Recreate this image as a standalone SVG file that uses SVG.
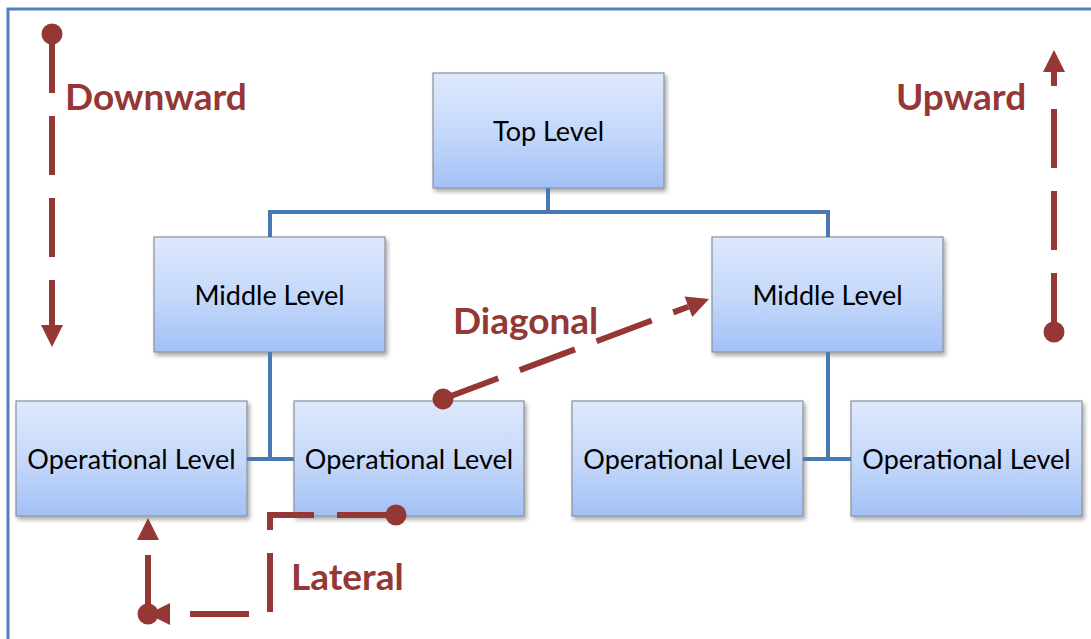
<svg xmlns="http://www.w3.org/2000/svg" width="1091" height="639" viewBox="0 0 1091 639">
<defs>
<linearGradient id="boxGrad" x1="0" y1="0" x2="0" y2="1">
<stop offset="0" stop-color="#dde8fc"/>
<stop offset="0.5" stop-color="#c6d9fa"/>
<stop offset="1" stop-color="#a3c0f6"/>
</linearGradient>
<filter id="shadow" x="-10%" y="-10%" width="130%" height="140%">
<feDropShadow dx="2" dy="3" stdDeviation="2" flood-color="#000" flood-opacity="0.35"/>
</filter>
<marker id="arrow" markerUnits="userSpaceOnUse" viewBox="-1 -12 24 24" markerWidth="24" markerHeight="24" refX="0" refY="0" orient="auto">
<path d="M0,-11 L22,0 L0,11 Z" fill="#953735"/>
</marker>
<marker id="dot" markerUnits="userSpaceOnUse" viewBox="-12 -12 24 24" markerWidth="24" markerHeight="24" refX="0" refY="0" orient="auto">
<circle cx="0" cy="0" r="10.5" fill="#953735"/>
</marker>
<style>
.box{fill:url(#boxGrad);stroke:#8a8f99;stroke-width:1.2;filter:url(#shadow)}
.btxt{font-family:Lato,"Liberation Sans",sans-serif;font-size:27px;fill:#000;text-anchor:middle}
.lbl{font-family:Lato,"Liberation Sans",sans-serif;font-weight:bold;font-size:37px;fill:#953735}
.tree{fill:none;stroke:#4a78b0;stroke-width:4}
.flow{fill:none;stroke:#953735;stroke-width:6;stroke-dasharray:59 23}
</style>
</defs>
<rect x="8" y="9" width="1200" height="800" fill="#fff" stroke="#4f81bd" stroke-width="3"/>

<g id="top-level"><rect class="box" x="433" y="73" width="231" height="115"/><text class="btxt" x="548.5" y="141">Top Level</text></g>
<g id="middle-left"><rect class="box" x="154" y="237" width="231" height="115"/><text class="btxt" x="269.5" y="305">Middle Level</text></g>
<g id="middle-right"><rect class="box" x="712" y="237" width="231" height="115"/><text class="btxt" x="827.5" y="305">Middle Level</text></g>
<g id="op-1"><rect class="box" x="16" y="401" width="231" height="115"/><text class="btxt" x="131.5" y="469">Operational Level</text></g>
<g id="op-2"><rect class="box" x="294" y="401" width="230" height="115"/><text class="btxt" x="409" y="469">Operational Level</text></g>
<g id="op-3"><rect class="box" x="572" y="401" width="231" height="115"/><text class="btxt" x="687.5" y="469">Operational Level</text></g>
<g id="op-4"><rect class="box" x="851" y="401" width="231" height="115"/><text class="btxt" x="966.5" y="469">Operational Level</text></g>

<g id="connectors">
<path class="tree" d="M548,188 V212 M270,237 V212 H828 V237 M270,352 V459 M247,459 H294 M828,352 V459 M803,459 H851"/>
<path class="flow" d="M52,34 V325" marker-start="url(#dot)" marker-end="url(#arrow)"/>
<path class="flow" d="M1054,332 V72" marker-start="url(#dot)" marker-end="url(#arrow)"/>
<path class="flow" d="M443,399 L688.4,306.7" marker-start="url(#dot)" marker-end="url(#arrow)"/>
<path class="flow" d="M396,515 H270 V614 H170" marker-start="url(#dot)" marker-end="url(#arrow)"/>
<path class="flow" d="M148,614 V540" marker-start="url(#dot)" marker-end="url(#arrow)"/>
</g>

<g id="labels">
<text class="lbl" x="65" y="110">Downward</text>
<text class="lbl" x="896" y="110">Upward</text>
<text class="lbl" x="453" y="334">Diagonal</text>
<text class="lbl" x="291" y="590">Lateral</text>
</g>
</svg>
